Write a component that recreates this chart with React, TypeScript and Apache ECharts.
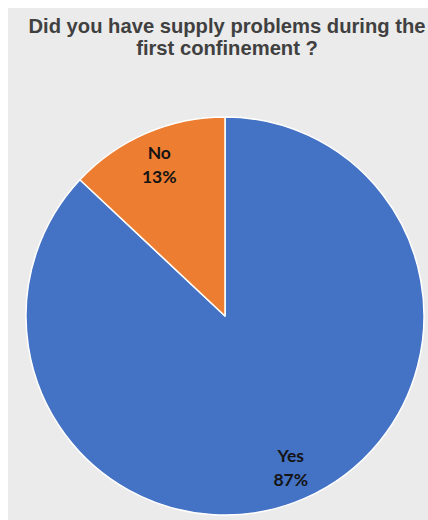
import React, { useEffect, useRef } from "react";
import * as echarts from "echarts";

const categories = ["Yes", "No"];
const values = [87, 13];
const colors = ["#4472c4", "#ed7d31"];
const titleLines = ["Did you have supply problems during the", "first confinement ?"];

export default function App() {
  const ref = useRef<HTMLDivElement>(null);
  useEffect(() => {
    if (!ref.current) return;
    document.body.style.margin = "0";
    document.body.style.overflow = "hidden";
    document.documentElement.style.overflow = "hidden";
    const chart = echarts.init(ref.current, undefined, { renderer: "svg" });
    const data = categories.map((c, i) => ({ name: c, value: values[i] }));
    chart.setOption({
      animation: false,
      backgroundColor: "#ebebeb",
      title: {
        text: titleLines.join("\n"),
        left: 214,
        textAlign: "center",
        top: 2,
        textStyle: {
          fontFamily: "Liberation Sans, Arial, sans-serif",
          fontWeight: "bold",
          fontSize: 20.2,
          lineHeight: 22,
          color: "#404040",
        },
      },
      series: [
        {
          type: "pie",
          center: [217, 308],
          radius: [0, 199],
          startAngle: 90,
          clockwise: true,
          data,
          color: colors,
          itemStyle: { borderColor: "#ffffff", borderWidth: 1.5 },
          label: { show: false },
          labelLine: { show: false },
          silent: true,
        },
        {
          type: "pie",
          center: [217, 308],
          radius: [126, 199],
          startAngle: 90,
          clockwise: true,
          data,
          itemStyle: { color: "transparent", borderWidth: 0 },
          label: {
            show: true,
            position: "inside",
            formatter: (p: any) => `${p.name}\n${p.value}%`,
            fontFamily: "Lato, Open Sans, sans-serif",
            fontWeight: "bold",
            fontSize: 17.5,
            lineHeight: 24,
            color: "#141414",
          },
          labelLine: { show: false },
          silent: true,
        },
      ],
    });
    return () => chart.dispose();
  }, []);
  return (
    <div style={{ width: 420, height: 512, padding: "8px 0 0 8px", background: "#ffffff" }}>
      <div ref={ref} style={{ width: 420, height: 512 }} />
    </div>
  );
}
